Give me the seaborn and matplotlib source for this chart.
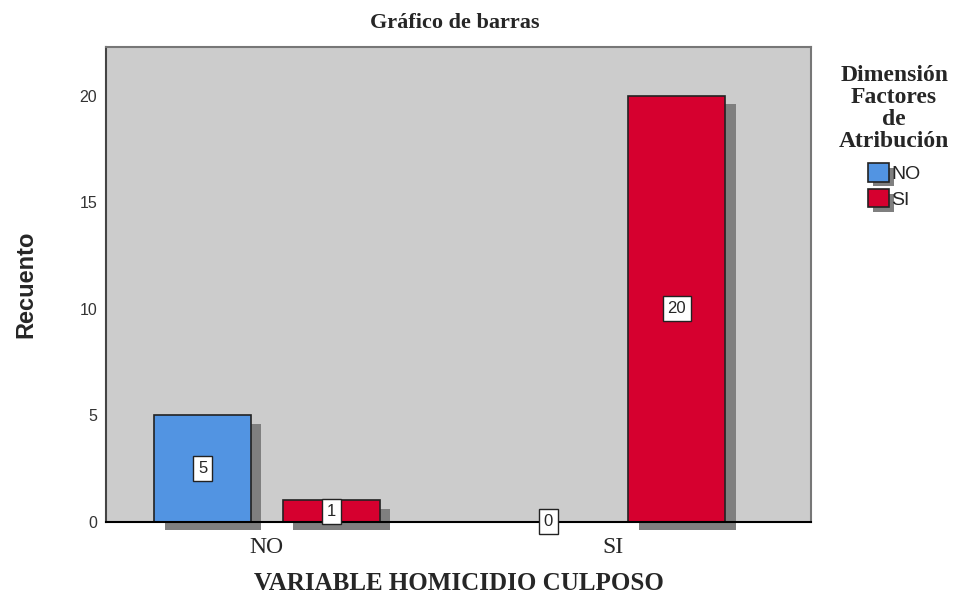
import pandas as pd
import matplotlib.pyplot as plt
import matplotlib.patheffects as pe
import seaborn as sns

# Data
categorias = ["NO", "SI"]
dimension = ["NO", "SI"]
recuento_no = [5, 0]
recuento_si = [1, 20]

df = pd.DataFrame({
    "variable": categorias * 2,
    "dimension": ["NO"] * 2 + ["SI"] * 2,
    "recuento": recuento_no + recuento_si,
})

colores = {"NO": "#5294E2", "SI": "#D6002F"}
sombra = [pe.SimplePatchShadow(offset=(7.5, -6), shadow_rgbFace="#7f7f7f", alpha=1), pe.Normal()]

sns.set_style("white")
fig = plt.figure(figsize=(9.74, 5.99), dpi=100)
ax = fig.add_axes([0.109, 0.129, 0.724, 0.793])
ax.set_facecolor("#cccccc")

sns.barplot(data=df, x="variable", y="recuento", hue="dimension", order=categorias,
            hue_order=dimension, palette=colores, width=0.744, gap=0.247,
            edgecolor="#222222", linewidth=1.2, saturation=1, ax=ax)

for bar in ax.patches:
    bar.set_path_effects(sombra)
    bar.set_clip_on(False)

for cont in ax.containers:
    ax.bar_label(cont, label_type="center", fontsize=12, family="Liberation Sans",
                 bbox=dict(boxstyle="square,pad=0.3", fc="white", ec="#222222", lw=1))

ax.set_xlim(-0.465, 1.575)
ax.set_ylim(0, 22.3)
ax.set_yticks([0, 5, 10, 15, 20])
ax.tick_params(axis="y", length=0, pad=6.5, labelsize=11.5, labelcolor="#333333")
ax.tick_params(axis="x", length=0, pad=11, labelsize=17)
for t in ax.get_yticklabels():
    t.set_family("Liberation Sans")
for t in ax.get_xticklabels():
    t.set_family("Liberation Serif")

for s in ax.spines.values():
    s.set_color("#777777")
    s.set_linewidth(1.5)
ax.spines["bottom"].set_color("black")
ax.spines["left"].set_color("#444444")

ax.set_xlabel("VARIABLE HOMICIDIO CULPOSO", fontsize=18, fontweight="bold",
              family="Liberation Serif", labelpad=10)
ax.set_ylabel("Recuento", fontsize=17, fontweight="bold", family="Liberation Sans", labelpad=30)
fig.suptitle("Gráfico de barras", x=0.467, y=0.978, fontsize=16, fontweight="bold",
             family="Liberation Serif")

handles, labels = ax.get_legend_handles_labels()
ax.get_legend().remove()
leg = fig.legend(handles, labels, title="Dimensión\nFactores\nde\nAtribución",
                 loc="upper center", bbox_to_anchor=(0.918, 0.92), frameon=False,
                 handlelength=1.1, handleheight=1.1, handletextpad=0.1,
                 labelspacing=0.3, prop={"family": "Liberation Sans", "size": 14})
leg.get_title().set_fontproperties({"family": "Liberation Serif", "weight": "bold", "size": 17})
leg.get_title().set_multialignment("center")
leg.get_title().set_linespacing(1.05)
leg._legend_box.sep = 8
for h in leg.legend_handles:
    h.set_path_effects([pe.SimplePatchShadow(offset=(3.5, -3.5), shadow_rgbFace="#7f7f7f", alpha=1), pe.Normal()])

fig.savefig("out.png", dpi=100)
